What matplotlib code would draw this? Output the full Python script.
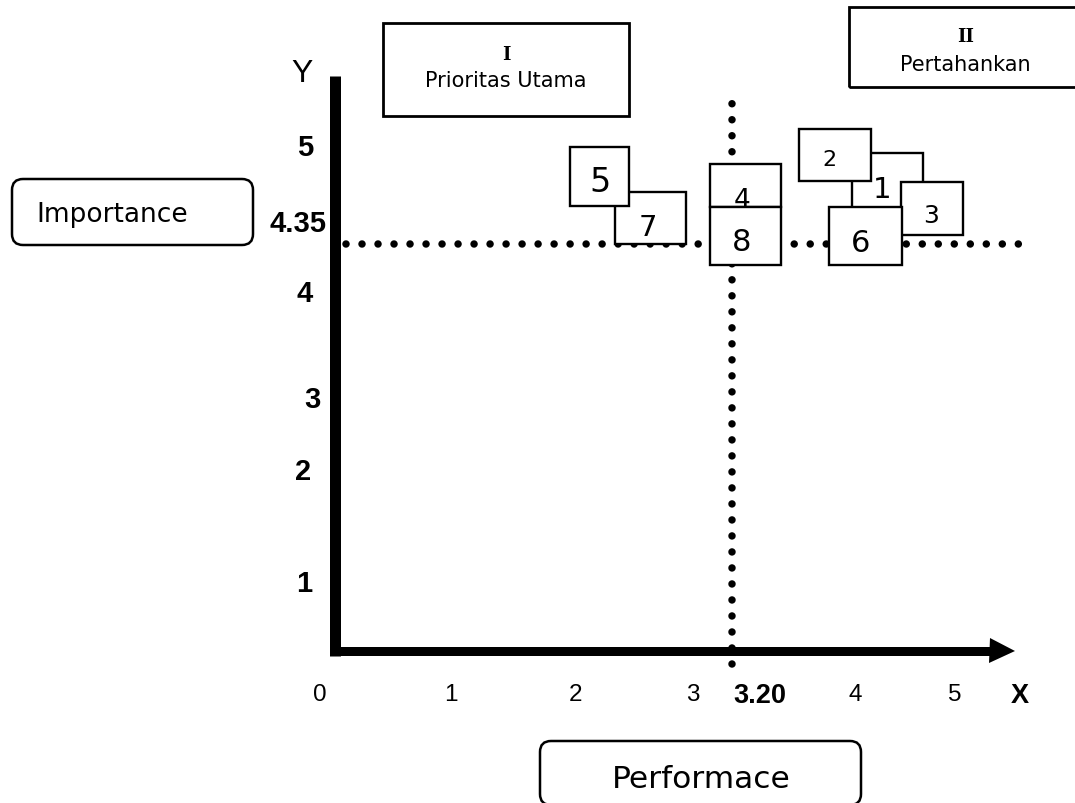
import numpy as np
import matplotlib
matplotlib.use("Agg")
import matplotlib.pyplot as plt
from matplotlib.patches import Rectangle, FancyBboxPatch
from matplotlib import transforms

# ---------------- data ----------------
items = ['1', '2', '3', '4', '5', '6', '7', '8']
performance = [4.32, 3.87, 4.77, 3.29, 2.20, 4.10, 2.64, 3.29]
importance = [4.76, 4.93, 4.58, 4.73, 4.79, 4.40, 4.52, 4.40]
mean_performance = 3.20
mean_importance = 4.35
x_ticks = [0, 1, 2, 3, 4, 5]
x_tick_labels = ['0', '1', '2', '3', '4', '5']
y_ticks = [1, 2, 3, 4, 5]
y_tick_labels = ['1', '2', '3', '4', '5']
quadrant_numerals = ['I', 'II']
quadrant_names = ['Prioritas Utama', 'Pertahankan']
x_title = 'Performace'
y_title = 'Importance'
x_axis_letter = 'X'
y_axis_letter = 'Y'

# ---------------- layout / style ----------------
W, H = 1075, 804
P = 0.72                      # points per pixel at dpi 100
OX, OY = 335, 652             # axis origin in pixels

# hand-drawn (non-uniform) axis spacing in pixels from the origin
x_knot_vals = [0, 1, 2, 3, mean_performance, 4, 5]
x_knot_px = [0, 116, 241, 358, 397, 520, 620]
y_knot_vals = [0, 1, 2, 3, 4, mean_importance, 5]
y_knot_px = [0, 71, 183, 255, 361, 407, 507]


def piecewise(xs, ys):
    xs = np.asarray(xs, float)
    ys = np.asarray(ys, float)
    s0 = (ys[1] - ys[0]) / (xs[1] - xs[0])
    s1 = (ys[-1] - ys[-2]) / (xs[-1] - xs[-2])

    def f(v):
        v = np.asarray(v, float)
        out = np.interp(v, xs, ys)
        out = np.where(v < xs[0], ys[0] + (v - xs[0]) * s0, out)
        out = np.where(v > xs[-1], ys[-1] + (v - xs[-1]) * s1, out)
        return out
    return f


fx, fx_inv = piecewise(x_knot_vals, x_knot_px), piecewise(x_knot_px, x_knot_vals)
fy, fy_inv = piecewise(y_knot_vals, y_knot_px), piecewise(y_knot_px, y_knot_vals)

fig = plt.figure(figsize=(W / 100, H / 100), dpi=100)
fig.patch.set_facecolor('white')
ax = fig.add_axes([OX / W, 1 - OY / H, (W - OX) / W, OY / H])
ax.set_xscale('function', functions=(fx, fx_inv))
ax.set_yscale('function', functions=(fy, fy_inv))
ax.set_xlim(0, float(fx_inv(W - OX)))
ax.set_ylim(0, float(fy_inv(OY)))
ax.axis('off')
AW, AH = W - OX, OY   # axes size in pixels


def ftext(x, y, s, **kw):
    fig.text(x / W, 1 - y / H, s, **kw)


def pxbox(x0, y0, x1, y1, rounded=0, lw=1.6):
    if rounded:
        patch = FancyBboxPatch((x0 / 100, (H - y1) / 100), (x1 - x0) / 100, (y1 - y0) / 100,
                               boxstyle=f'round,pad=0,rounding_size={rounded / 100}',
                               transform=fig.dpi_scale_trans, fill=False,
                               edgecolor='black', lw=lw)
    else:
        patch = Rectangle((x0 / 100, (H - y1) / 100), (x1 - x0) / 100, (y1 - y0) / 100,
                          transform=fig.dpi_scale_trans, fill=False,
                          edgecolor='black', lw=lw)
    fig.add_artist(patch)


# ---- axes lines ----
ax.plot([0, 0], [-5 / AH, (OY - 77) / AH], transform=ax.transAxes, color='black',
        lw=11 * P, solid_capstyle='butt', clip_on=False, zorder=20)
ax.plot([-5 / AW, (1000 - OX) / AW], [0, 0], transform=ax.transAxes, color='black',
        lw=9 * P, solid_capstyle='butt', clip_on=False, zorder=20)
ax.plot([(1002 - OX) / AW], [0], transform=ax.transAxes, marker='>', markersize=25 * P,
        color='black', mew=0, clip_on=False, zorder=20)

# ---- mean (dotted) lines ----
dot_style = dict(color='black', lw=7.5 * P, linestyle=(0, (0.001, 16 / 7.5)),
                 dash_capstyle='round', clip_on=False, zorder=2)
ax.axhline(mean_importance, xmin=(346 - OX) / AW, xmax=(1022 - OX) / AW, **dot_style)
ax.axvline(mean_performance, ymin=-13 / AH, ymax=(OY - 100) / AH, **dot_style)

# ---- item boxes ----
box_size_px = {'1': (71, 56), '2': (72, 52), '3': (62, 53), '4': (71, 43),
               '5': (59, 59), '6': (73, 58), '7': (71, 52), '8': (71, 58)}
label_size = {'1': 21, '2': 16, '3': 18, '4': 19, '5': 24, '6': 22, '7': 21, '8': 22}
label_shift_px = {'1': (-5, 5), '2': (-6, 2), '3': (-1, 4), '4': (-4, 11),
                  '5': (1, 2), '6': (-4, 3), '7': (-3, 6), '8': (-4, 2)}
draw_order = ['7', '5', '1', '2', '3', '6', '4', '8']

for name, xv, yv in zip(items, performance, importance):
    z = 5 + draw_order.index(name)
    w, h = box_size_px[name]
    trans = fig.dpi_scale_trans + transforms.ScaledTranslation(xv, yv, ax.transData)
    ax.add_artist(Rectangle((-w / 200, -h / 200), w / 100, h / 100, transform=trans,
                            facecolor='white', edgecolor='black', lw=1.7, zorder=z,
                            clip_on=False))
    dx, dy = label_shift_px[name]
    ax.annotate(name, xy=(xv, yv), xytext=(dx * P, -dy * P), textcoords='offset points',
                ha='center', va='center_baseline', fontsize=label_size[name],
                family='DejaVu Sans', zorder=z + 0.5, annotation_clip=False)

# ---- tick labels ----
tick_font = ['Liberation Sans', 'DejaVu Sans']
y_label_px = {1: 304, 2: 303, 3: 312, 4: 305, 5: 305}
for v, lab in zip(y_ticks, y_tick_labels):
    ax.annotate(lab, xy=(0, v), xycoords=('axes fraction', 'data'),
                xytext=((y_label_px[v] - OX) * P, 0), textcoords='offset points',
                ha='center', va='center_baseline', fontsize=21, fontweight='bold',
                family=tick_font, annotation_clip=False)
ax.annotate(f'{mean_importance:.2f}', xy=(0, mean_importance), xycoords=('axes fraction', 'data'),
            xytext=((298 - OX) * P, 24 * P), textcoords='offset points',
            ha='center', va='center_baseline', fontsize=21, fontweight='bold',
            family=tick_font, annotation_clip=False)

x_label_shift = {0: -15}
for v, lab in zip(x_ticks, x_tick_labels):
    ax.annotate(lab, xy=(v, 0), xycoords=('data', 'axes fraction'),
                xytext=(x_label_shift.get(v, 0) * P, -41 * P), textcoords='offset points',
                ha='center', va='center_baseline', fontsize=17.5,
                family=tick_font, annotation_clip=False)
ax.annotate(f'{mean_performance:.2f}', xy=(mean_performance, 0), xycoords=('data', 'axes fraction'),
            xytext=(28 * P, -41 * P), textcoords='offset points',
            ha='center', va='center_baseline', fontsize=19.5, fontweight='bold',
            family=tick_font, annotation_clip=False)

ftext(1020, 693, x_axis_letter, ha='center', va='center_baseline', fontsize=19.5,
      fontweight='bold', family=tick_font)
ftext(302, 70, y_axis_letter, ha='center', va='center_baseline', fontsize=23,
      family=tick_font)

# ---- quadrant label boxes ----
pxbox(383, 24, 629, 117, lw=2)
ftext(506, 53, quadrant_numerals[0], ha='center', va='center_baseline', fontsize=13,
      fontweight='bold', family='DejaVu Serif')
ftext(506, 79, quadrant_names[0], ha='center', va='center_baseline', fontsize=15,
      family='DejaVu Sans')

pxbox(849, 8, 1085, 88, lw=2)
ftext(966, 35, quadrant_numerals[1], ha='center', va='center_baseline', fontsize=13,
      fontweight='bold', family='DejaVu Serif')
ftext(965, 63, quadrant_names[1], ha='center', va='center_baseline', fontsize=15,
      family='DejaVu Sans')

# ---- axis title boxes ----
pxbox(12, 180, 253, 246, rounded=11, lw=1.8)
ftext(36, 212, y_title, ha='left', va='center_baseline', fontsize=19, family='DejaVu Sans')

pxbox(540, 742, 861, 806, rounded=11, lw=1.8)
ftext(701, 777, x_title, ha='center', va='center_baseline', fontsize=22.5, family='DejaVu Sans')

fig.savefig('out.png', dpi=100, facecolor='white')
